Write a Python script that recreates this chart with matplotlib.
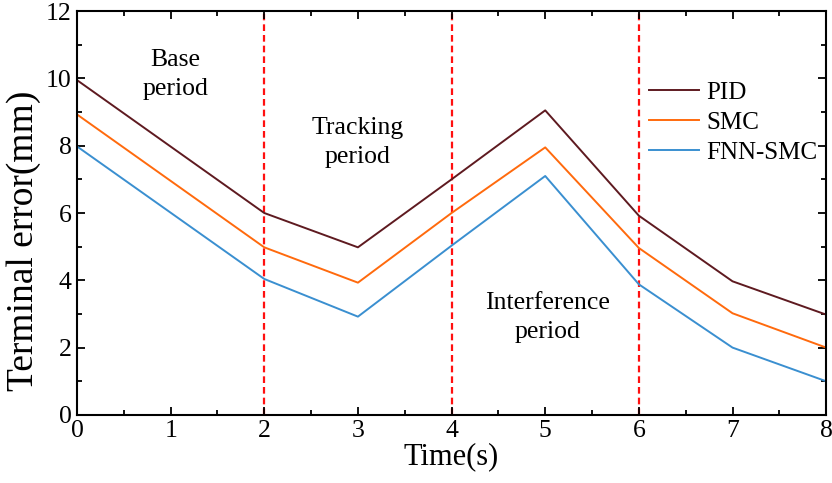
import numpy as np
import matplotlib
matplotlib.use("Agg")
import matplotlib.pyplot as plt
from matplotlib.ticker import MultipleLocator

plt.rcParams['font.family'] = ['Liberation Serif', 'DejaVu Serif']
plt.rcParams['mathtext.fontset'] = 'stix'

t       = [0, 2, 3, 4, 5, 6, 7, 8]
pid     = [9.95, 6.0, 4.98, 7.0, 9.05, 5.92, 3.97, 2.98]
smc     = [8.93, 4.98, 3.93, 6.0, 7.95, 4.96, 3.02, 2.0]
fnn_smc = [7.98, 4.04, 2.92, 5.03, 7.1, 3.88, 2.0, 1.0]

labels  = ['PID', 'SMC', 'FNN-SMC']
colors  = ['#5E1A20', '#FF6A0D', '#3A8FD0']

boundaries = [2, 4, 6]
periods = ['Base\nperiod', 'Tracking\nperiod', 'Interference\nperiod']
period_pos = [(1.05, 10.12), (3.0, 8.1), (5.02, 2.9)]

fig = plt.figure(figsize=(8.32, 4.83), dpi=100)
ax = fig.add_axes([0.0925, 0.141, 0.9005, 0.836])

for y, lab, c in zip([pid, smc, fnn_smc], labels, colors):
    ax.plot(t, y, color=c, lw=1.4, label=lab)

for b in boundaries:
    ax.axvline(b, color='#FF1010', lw=1.6, ls=(0, (3, 1.8)), zorder=1)

for txt, (x, y) in zip(periods, period_pos):
    ax.text(x, y, txt, ha='center', va='center', fontsize=18.5, linespacing=1.4)

ax.set_xlim(0, 8)
ax.set_ylim(0, 12)
ax.xaxis.set_major_locator(MultipleLocator(1))
ax.xaxis.set_minor_locator(MultipleLocator(0.5))
ax.yaxis.set_major_locator(MultipleLocator(2))
ax.yaxis.set_minor_locator(MultipleLocator(1))
ax.tick_params(which='both', direction='in', top=True, right=True, width=1.3)
ax.tick_params(which='major', length=6, labelsize=18.5, pad=4)
ax.tick_params(which='minor', length=3.5)
for s in ax.spines.values():
    s.set_linewidth(1.5)

ax.set_xlabel('Time(s)', fontsize=22, labelpad=0)
ax.set_ylabel('Terminal error(mm)', fontsize=27)
ax.yaxis.set_label_coords(-0.048, 0.43)

ax.legend(loc='upper left', bbox_to_anchor=(0.75, 0.85), frameon=False,
          fontsize=18, handlelength=2.0, handletextpad=0.3, labelspacing=0.3,
          borderaxespad=0)

fig.savefig('out.png', dpi=100)
